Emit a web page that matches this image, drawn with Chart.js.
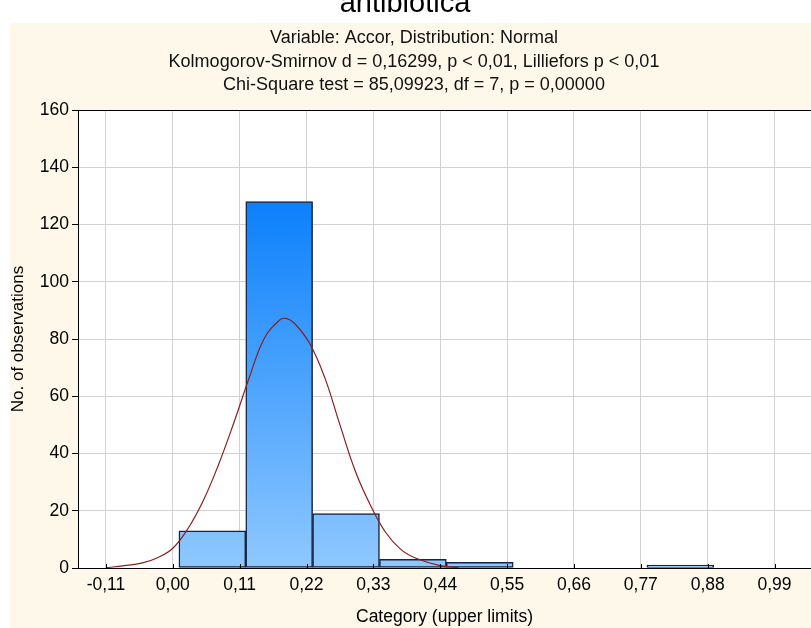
<!DOCTYPE html>
<html>
<head>
<meta charset="utf-8">
<script src="https://cdn.jsdelivr.net/npm/chart.js@4.4.1/dist/chart.umd.min.js"></script>
<style>
  html, body { margin: 0; padding: 0; background: #ffffff; overflow: hidden; }
  #wrap { width: 811px; height: 628px; position: relative; }
</style>
</head>
<body>
<div id="wrap"><canvas id="histo"></canvas></div>
<script>
// histogram: bins of 0,11 (bars sit ~0,01 right of the labelled limits)
const binCenters = [0.065, 0.175, 0.285, 0.395, 0.505, 0.615, 0.725, 0.835, 0.945];
const counts = [13, 128, 19, 3, 2, 0, 0, 1, 0];

// fitted normal curve
const curveX = [-0.11, -0.08, -0.05, -0.025, 0.0, 0.025, 0.05, 0.075, 0.10, 0.125, 0.15, 0.175, 0.186, 0.20, 0.225, 0.25, 0.275, 0.30, 0.325, 0.35, 0.375, 0.40, 0.44, 0.47];
const curveY = [0.1, 0.8, 1.8, 3.6, 6.9, 13.8, 23.5, 36, 50.5, 66, 80, 86.5, 87.2, 85.5, 78.5, 66.5, 50, 34, 22, 12.5, 6.5, 3.4, 0.8, 0.1];

const xTicks = [-0.11, 0.00, 0.11, 0.22, 0.33, 0.44, 0.55, 0.66, 0.77, 0.88, 0.99];
const yTicks = [0, 20, 40, 60, 80, 100, 120, 140, 160];

const mainTitle = 'antibiotica';
const subLines = [
  'Variable: Accor, Distribution: Normal',
  'Kolmogorov-Smirnov d = 0,16299, p < 0,01, Lilliefors p < 0,01',
  'Chi-Square test = 85,09923, df = 7, p = 0,00000'
];

const fontFam = 'Arial, "Liberation Sans", sans-serif';

const panel = {
  id: 'panel',
  beforeDraw(chart) {
    const ctx = chart.ctx;
    const a = chart.chartArea;
    ctx.save();
    ctx.fillStyle = '#fdf8ea';
    ctx.fillRect(10, 23, chart.width - 10, chart.height - 23);
    ctx.fillStyle = '#ffffff';
    ctx.fillRect(a.left, a.top, a.right - a.left, a.bottom - a.top);
    ctx.fillStyle = '#000000';
    ctx.textAlign = 'center';
    ctx.textBaseline = 'alphabetic';
    ctx.font = '29px ' + fontFam;
    ctx.fillText(mainTitle, 405, 12);
    ctx.font = '18px ' + fontFam;
    ctx.textBaseline = 'middle';
    ctx.fillStyle = '#111111';
    subLines.forEach((t, i) => ctx.fillText(t, 414, 38 + i * 23.7));
    ctx.restore();
  },
  afterDraw(chart) {
    const ctx = chart.ctx;
    const a = chart.chartArea;
    const x = chart.scales.x;
    ctx.save();
    ctx.strokeStyle = '#000000';
    ctx.lineWidth = 1;
    ctx.beginPath();
    ctx.moveTo(a.left, a.top + 0.5);
    ctx.lineTo(a.right, a.top + 0.5);
    // small inward tick marks on the x axis
    xTicks.forEach(v => {
      const px = Math.round(x.getPixelForValue(v)) + 0.5;
      ctx.moveTo(px, a.bottom);
      ctx.lineTo(px, a.bottom - 4);
    });
    ctx.stroke();
    ctx.restore();
  }
};

function barFill(context) {
  const chart = context.chart;
  const a = chart.chartArea;
  if (!a) return '#7fbfff';
  const y = chart.scales.y;
  const g = chart.ctx.createLinearGradient(0, y.getPixelForValue(130), 0, y.getPixelForValue(0));
  g.addColorStop(0, '#0a7ffb');
  g.addColorStop(1, '#8fc8ff');
  return g;
}

new Chart(document.getElementById('histo'), {
  type: 'bar',
  data: {
    datasets: [
      {
        type: 'line',
        data: curveX.map((x, i) => ({ x: x, y: curveY[i] })),
        borderColor: '#8b1f1f',
        borderWidth: 1.2,
        pointRadius: 0,
        tension: 0.4,
        fill: false,
        order: 0
      },
      {
        data: binCenters.map((x, i) => ({ x: x, y: counts[i] })),
        backgroundColor: barFill,
        borderColor: '#17233f',
        borderWidth: 1.5,
        borderSkipped: false,
        barPercentage: 1,
        categoryPercentage: 1,
        order: 1
      }
    ]
  },
  options: {
    responsive: true,
    maintainAspectRatio: false,
    animation: false,
    layout: { padding: { top: 110, right: 0, bottom: 0, left: 0 } },
    plugins: {
      legend: { display: false },
      tooltip: { enabled: false }
    },
    scales: {
      x: {
        type: 'linear',
        min: -0.156,
        max: 1.05,
        offset: false,
        afterBuildTicks: (scale) => { scale.ticks = xTicks.map(v => ({ value: v })); },
        afterFit: (scale) => { scale.height = 60; },
        grid: { color: '#d2d2d2', drawTicks: false, offset: false },
        border: { color: '#000000', width: 1 },
        ticks: {
          color: '#000000',
          padding: 7,
          maxRotation: 0,
          autoSkip: false,
          font: { family: fontFam, size: 17.5 },
          callback: (v) => v.toFixed(2).replace('.', ',')
        },
        title: {
          display: true,
          text: 'Category (upper limits)',
          color: '#000000',
          font: { family: fontFam, size: 17.5 },
          padding: { top: 3, bottom: 0 }
        }
      },
      y: {
        min: 0,
        max: 160,
        afterBuildTicks: (scale) => { scale.ticks = yTicks.map(v => ({ value: v })); },
        afterFit: (scale) => { scale.width = 78; },
        grid: { color: '#d2d2d2', tickColor: '#000000', tickLength: 6 },
        border: { color: '#000000', width: 1 },
        ticks: {
          color: '#000000',
          padding: 3,
          font: { family: fontFam, size: 17.5 }
        },
        title: {
          display: true,
          text: 'No. of observations',
          color: '#000000',
          font: { family: fontFam, size: 17 },
          padding: { top: 8, bottom: 0 }
        }
      }
    }
  },
  plugins: [panel]
});
</script>
</body>
</html>
